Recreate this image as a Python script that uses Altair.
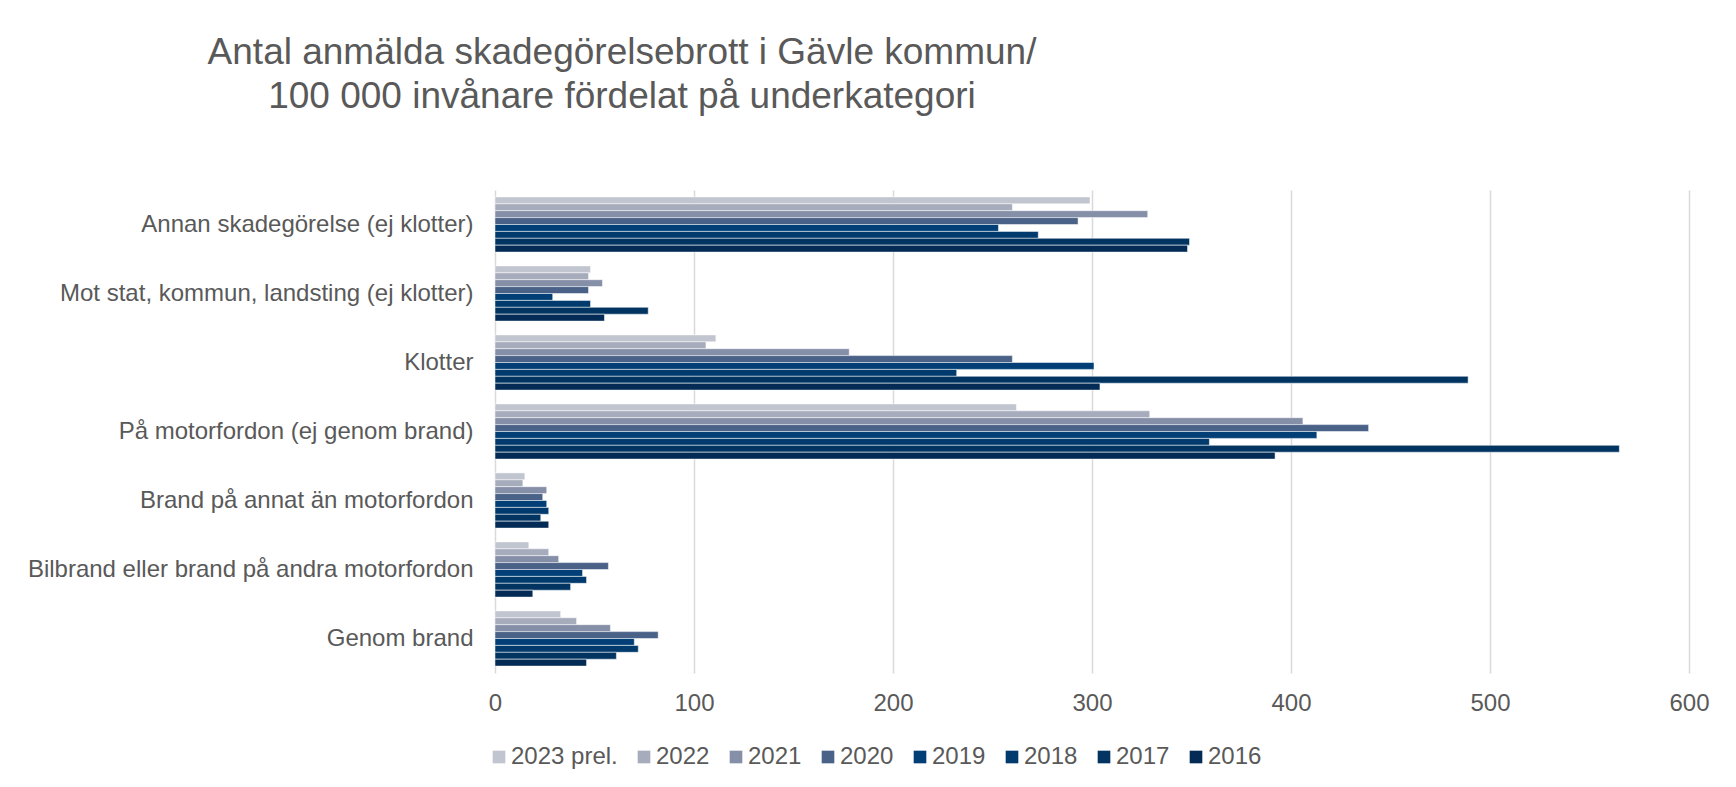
import altair as alt
import pandas as pd

categories = [
    "Annan skadegörelse (ej klotter)",
    "Mot stat, kommun, landsting (ej klotter)",
    "Klotter",
    "På motorfordon (ej genom brand)",
    "Brand på annat än motorfordon",
    "Bilbrand eller brand på andra motorfordon",
    "Genom brand",
]
years = ["2023 prel.", "2022", "2021", "2020", "2019", "2018", "2017", "2016"]
colors = ["#C1C5D0", "#A7ACBC", "#858FA7", "#4B6288", "#023F76", "#013A6C", "#023462", "#032B55"]

# values per category, in the order of `years`
v_annan = [299, 260, 328, 293, 253, 273, 349, 348]
v_motstat = [48, 47, 54, 47, 29, 48, 77, 55]
v_klotter = [111, 106, 178, 260, 301, 232, 489, 304]
v_motorfordon = [262, 329, 406, 439, 413, 359, 565, 392]
v_brandannat = [15, 14, 26, 24, 26, 27, 23, 27]
v_bilbrand = [17, 27, 32, 57, 44, 46, 38, 19]
v_genombrand = [33, 41, 58, 82, 70, 72, 61, 46]

series = [v_annan, v_motstat, v_klotter, v_motorfordon, v_brandannat, v_bilbrand, v_genombrand]

rows = []
for cat, vals in zip(categories, series):
    for yr, v in zip(years, vals):
        rows.append({"kategori": cat, "år": yr, "värde": v})
df = pd.DataFrame(rows)

FONT = "Liberation Sans"
GREY = "#595959"

chart = (
    alt.Chart(df)
    .mark_bar(stroke="white", strokeWidth=0.5)
    .encode(
        x=alt.X(
            "värde:Q",
            scale=alt.Scale(domain=[0, 600], nice=False),
            axis=alt.Axis(
                values=[0, 100, 200, 300, 400, 500, 600],
                title=None,
                domain=False,
                ticks=False,
                grid=True,
                gridColor="#D9D9D9",
                gridWidth=1.5,
                labelFont=FONT,
                labelFontSize=24,
                labelColor=GREY,
                labelPadding=18,
                labelFlush=False,
            ),
        ),
        y=alt.Y(
            "kategori:N",
            sort=categories,
            scale=alt.Scale(paddingInner=0.2, paddingOuter=0.1),
            axis=alt.Axis(
                title=None,
                domain=False,
                ticks=False,
                labelFont=FONT,
                labelFontSize=24,
                labelColor=GREY,
                labelPadding=22,
                labelLimit=600,
            ),
        ),
        yOffset=alt.YOffset("år:N", sort=years, scale=alt.Scale(paddingInner=0, paddingOuter=0)),
        color=alt.Color(
            "år:N",
            sort=years,
            scale=alt.Scale(domain=years, range=colors),
            legend=alt.Legend(
                title=None,
                orient="none",
                direction="horizontal",
                columns=8,
                legendX=-8,
                legendY=555,
                symbolType="square",
                symbolSize=160,
                symbolStrokeWidth=0,
                labelFont=FONT,
                labelFontSize=24,
                labelColor=GREY,
                labelOffset=0,
                columnPadding=14,
                padding=0,
            ),
        ),
    )
    .properties(
        width=1194,
        height=483,
        title=alt.TitleParams(
            text=[
                "Antal anmälda skadegörelsebrott i Gävle kommun/",
                "100 000 invånare fördelat på underkategori",
            ],
            font=FONT,
            fontSize=37,
            fontWeight="normal",
            color=GREY,
            anchor="start",
            align="center",
            frame="group",
            dx=127,
            offset=74,
            lineHeight=44,
        ),
        autosize=alt.AutoSizeParams(type="none"),
        padding={"left": 487, "top": 182, "right": 30, "bottom": 100},
    )
    .configure_view(stroke=None)
)

chart.save("out.html", embed_options={"renderer": "svg", "actions": False})
